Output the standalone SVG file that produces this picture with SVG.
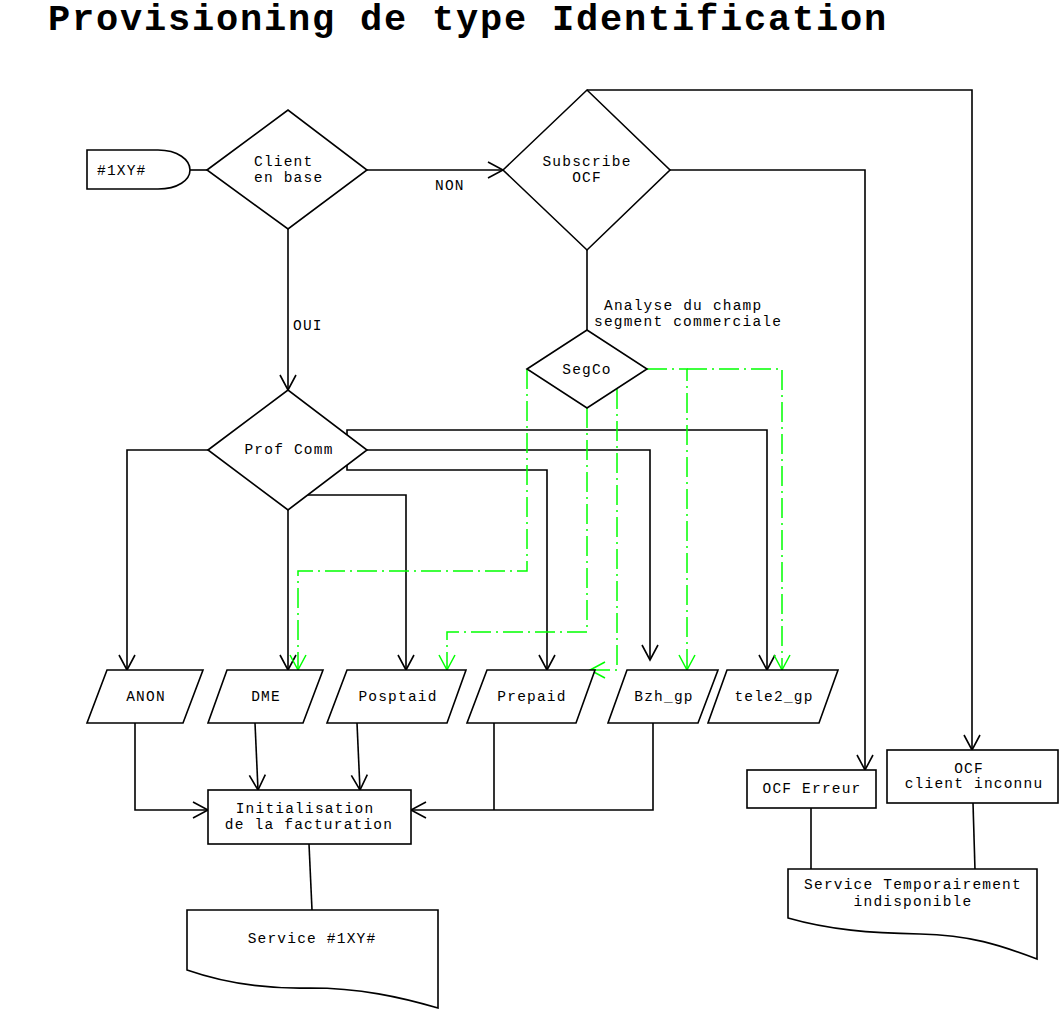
<svg xmlns="http://www.w3.org/2000/svg" width="1059" height="1011" viewBox="0 0 1059 1011">
<style>
.n{fill:#fff;stroke:#000;stroke-width:1.6}
.c{fill:none;stroke:#000;stroke-width:1.6}
.g{fill:none;stroke:#00ff00;stroke-width:1.5;stroke-dasharray:20 5 2 5}
.t{font-family:"Liberation Mono","Courier New",monospace;font-size:14.5px;letter-spacing:1.2px;fill:#000}
.m{text-anchor:middle}
.title{font-family:"Liberation Mono","Courier New",monospace;font-size:37px;font-weight:bold;letter-spacing:1.8px;fill:#000}
</style>
<defs>
<marker id="a" viewBox="-17 -10 19 20" markerWidth="19" markerHeight="20" refX="0" refY="0" orient="auto" markerUnits="userSpaceOnUse">
<path d="M-15,-8 L0,0 L-15,8" fill="none" stroke="#000" stroke-width="1.6"/>
</marker>
<marker id="ag" viewBox="-17 -10 19 20" markerWidth="19" markerHeight="20" refX="0" refY="0" orient="auto" markerUnits="userSpaceOnUse">
<path d="M-15,-8 L0,0 L-15,8" fill="none" stroke="#00ff00" stroke-width="1.5"/>
</marker>
</defs>
<rect width="1059" height="1011" fill="#fff"/>
<text class="title" x="48" y="30">Provisioning de type Identification</text>

<g id="connectors">
<path class="c" d="M190,170 H207"/>
<path class="c" d="M367,170 H503" marker-end="url(#a)"/>
<path class="c" d="M288,229 V390" marker-end="url(#a)"/>
<path class="c" d="M587,90 H972 V750" marker-end="url(#a)"/>
<path class="c" d="M670,170 H865 V770" marker-end="url(#a)"/>
<path class="c" d="M587,250 V330"/>
<path class="c" d="M208,450 H127 V670" marker-end="url(#a)"/>
<path class="c" d="M288,510 V670" marker-end="url(#a)"/>
<path class="c" d="M308,495 H406 V670" marker-end="url(#a)"/>
<path class="c" d="M347,465 V470 H547 V670" marker-end="url(#a)"/>
<path class="c" d="M367,450 H650 V660" marker-end="url(#a)"/>
<path class="c" d="M347,435 V430 H767 V670" marker-end="url(#a)"/>
<path class="c" d="M135,723 V810 H208" marker-end="url(#a)"/>
<path class="c" d="M255,723 L258,790" marker-end="url(#a)"/>
<path class="c" d="M357,723 L360,790" marker-end="url(#a)"/>
<path class="c" d="M494,723 V810"/>
<path class="c" d="M653,723 V810 H411" marker-end="url(#a)"/>
<path class="c" d="M309,844 L312,910"/>
<path class="c" d="M811,808 V870"/>
<path class="c" d="M973,803 L975,870"/>
<path class="g" d="M527,369 V571 H298 V670" marker-end="url(#ag)"/>
<path class="g" d="M587,408 V632 H447 V670" marker-end="url(#ag)"/>
<path class="g" d="M617,389 V670 H590" marker-end="url(#ag)"/>
<path class="g" d="M647,369 H687 V670" marker-end="url(#ag)"/>
<path class="g" d="M687,369 H782 V670" marker-end="url(#ag)"/>
<text class="t" x="435" y="190">NON</text>
<text class="t" x="293" y="330">OUI</text>
<text class="t" x="604" y="310">Analyse du champ</text>
<text class="t" x="594" y="326">segment commerciale</text>
</g>

<g id="start">
<path class="n" d="M87,150 H158 C178,150 190,160 190,170 C190,180 178,189 158,189 H87 Z"/>
<text class="t" x="97" y="175">#1XY#</text>
</g>
<g id="client">
<path class="n" d="M207,170 L288,110 L367,170 L288,229 Z"/>
<text class="t" x="254" y="166">Client</text>
<text class="t" x="254" y="182">en base</text>
</g>
<g id="subscribe">
<path class="n" d="M503,170 L587,90 L670,170 L587,250 Z"/>
<text class="t m" x="587" y="166">Subscribe</text>
<text class="t m" x="587" y="182">OCF</text>
</g>
<g id="segco">
<path class="n" d="M527,369 L587,330 L647,369 L587,408 Z"/>
<text class="t m" x="587" y="374">SegCo</text>
</g>
<g id="profcomm">
<path class="n" d="M208,450 L288,390 L367,450 L288,510 Z"/>
<text class="t m" x="289" y="454">Prof Comm</text>
</g>
<g id="anon">
<path class="n" d="M107,670 H203 L183,723 H87 Z"/>
<text class="t m" x="146" y="701">ANON</text>
</g>
<g id="dme">
<path class="n" d="M227,670 H323 L303,723 H208 Z"/>
<text class="t m" x="266" y="701">DME</text>
</g>
<g id="posptaid">
<path class="n" d="M347,670 H466 L447,723 H327 Z"/>
<text class="t m" x="398" y="701">Posptaid</text>
</g>
<g id="prepaid">
<path class="n" d="M487,670 H595 L576,723 H467 Z"/>
<text class="t m" x="532" y="701">Prepaid</text>
</g>
<g id="bzh">
<path class="n" d="M627,670 H718 L698,723 H608 Z"/>
<text class="t m" x="664" y="701">Bzh_gp</text>
</g>
<g id="tele2">
<path class="n" d="M727,670 H838 L819,723 H708 Z"/>
<text class="t m" x="774" y="701">tele2_gp</text>
</g>
<g id="init">
<rect class="n" x="208" y="790" width="203" height="54"/>
<text class="t m" x="305" y="813">Initialisation</text>
<text class="t m" x="309" y="829">de la facturation</text>
</g>
<g id="service">
<path class="n" d="M187,910 H438 V1008 C400,997 360,988 310,988 C270,989 230,985 187,970 Z"/>
<text class="t m" x="312" y="943">Service #1XY#</text>
</g>
<g id="ocferreur">
<rect class="n" x="747" y="770" width="129" height="38"/>
<text class="t m" x="812" y="793">OCF Erreur</text>
</g>
<g id="ocfinconnu">
<rect class="n" x="887" y="750" width="171" height="53"/>
<text class="t m" x="969" y="773">OCF</text>
<text class="t m" x="974" y="788">client inconnu</text>
</g>
<g id="servicetemp">
<path class="n" d="M788,869 H1037 V959 C1000,945 970,935 920,934 C870,933 830,930 788,918 Z"/>
<text class="t m" x="913" y="889">Service Temporairement</text>
<text class="t m" x="913" y="906">indisponible</text>
</g>
</svg>
